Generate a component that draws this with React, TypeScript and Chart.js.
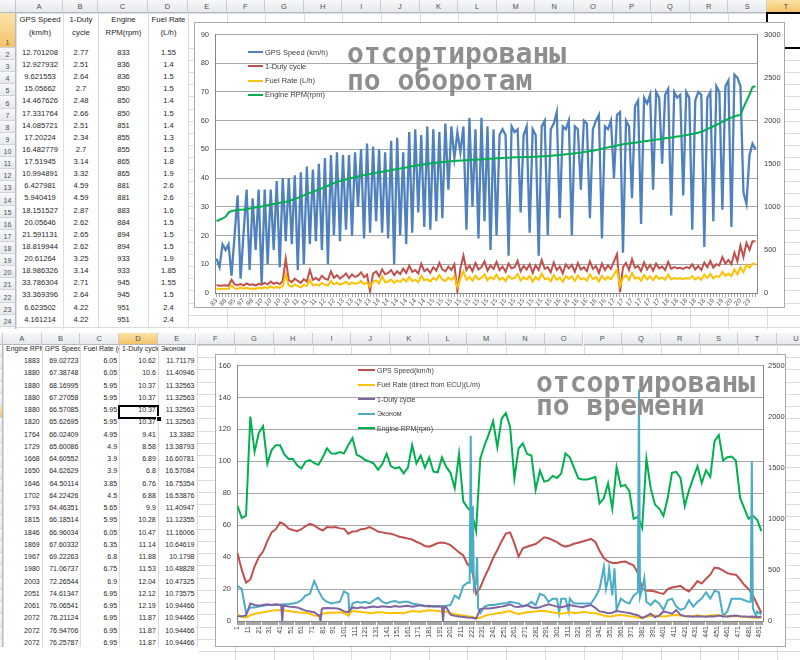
import React, { useEffect, useRef } from 'react'
import { Chart, registerables } from 'chart.js'

Chart.register(...registerables)
Chart.defaults.font.family = '"Liberation Sans", Arial, sans-serif'

// ---------- upper chart: rows sorted by engine speed ----------
const sortedRpm = [
  833, 850, 865, 884, 933, 951, 958, 962, 966, 970,
  975, 980, 986, 993, 999, 1005, 1012, 1019, 1026, 1033,
  1040, 1047, 1053, 1060, 1068, 1080, 1092, 1104, 1118, 1133,
  1150, 1162, 1175, 1188, 1201, 1215, 1230, 1245, 1260, 1275,
  1290, 1299, 1308, 1317, 1326, 1335, 1343, 1352, 1360, 1368,
  1376, 1382, 1389, 1395, 1402, 1408, 1414, 1420, 1426, 1432,
  1438, 1444, 1451, 1457, 1464, 1470, 1476, 1482, 1488, 1494,
  1500, 1504, 1508, 1512, 1516, 1520, 1523, 1526, 1529, 1532,
  1535, 1537, 1539, 1541, 1543, 1545, 1547, 1549, 1551, 1553,
  1555, 1558, 1560, 1563, 1565, 1568, 1569, 1571, 1572, 1574,
  1575, 1576, 1577, 1578, 1579, 1580, 1582, 1584, 1586, 1588,
  1590, 1593, 1596, 1599, 1602, 1605, 1609, 1613, 1617, 1621,
  1625, 1630, 1636, 1641, 1647, 1652, 1660, 1667, 1675, 1682,
  1690, 1697, 1704, 1711, 1719, 1726, 1731, 1736, 1741, 1745,
  1750, 1755, 1760, 1765, 1770, 1775, 1780, 1785, 1790, 1795,
  1800, 1805, 1810, 1815, 1820, 1825, 1832, 1839, 1846, 1853,
  1860, 1872, 1886, 1901, 1918, 1935, 1952, 1969, 1986, 2003,
  2020, 2035, 2050, 2060, 2065, 2150, 2230, 2300, 2390, 2400,
]
const sortedSpeed = [
  12, 9, 17, 15, 17, 6, 20, 34, 5, 21, 36, 8, 33, 15, 36, 3, 36,
  10, 36, 15, 39, 9, 40, 18, 40, 17, 41, 8, 42, 10, 44, 17, 43, 18, 45, 15,
  47, 10, 48, 20, 49, 18, 48, 22, 48, 20, 49, 30, 50, 19,
  52, 21, 51, 25, 50, 21, 49, 19, 53, 10, 54, 20,
  49, 17, 56, 21, 57, 28, 55, 23, 58, 22, 57, 25, 56, 26,
  59, 36, 58, 47, 56, 49, 58, 22, 61, 30, 57, 19, 61,
  25, 58, 15, 57, 20, 55,
  57, 55, 13, 58, 56, 57, 28, 55, 58, 21,
  57, 55, 13, 58, 60, 20, 57, 59,
  63, 26, 58, 57, 60, 20, 58, 57, 36, 60, 59, 26,
  57, 60, 62, 19, 58, 57, 60, 40, 62, 63, 14,
  60, 58, 33, 65, 67, 24, 68, 66, 69, 36, 70,
  68, 45, 69, 71, 27, 70, 68, 69, 34, 70, 68,
  22, 67, 70, 69, 16, 68, 70, 25, 72, 70, 29,
  72, 74, 23, 76, 75, 72, 35, 31, 48, 52, 50,
]
const sortedDuty = [
  2.8, 2.5, 2.6, 2.7, 2.5, 4.6, 3.0, 2.8, 3.1, 2.6,
  3.3, 2.8, 3.0, 2.6, 3.2, 2.9, 3.5, 3.0, 4.0, 3.2,
  3.6, 3.1, 4.2, 12.0, 4.5, 3.8, 5.0, 4.2, 3.5, 4.8,
  4.0, 8.0, 4.6, 5.2, 4.4, 6.0, 5.0, 4.6, 7.5, 5.3,
  6.2, 5.0, 5.8, 6.8, 5.2, 6.5, 5.6, 6.0, 7.2, 5.5,
  6.4, 0.5, 6.8, 7.5, 5.8, 8.2, 6.5, 7.0, 8.0, 6.2,
  7.6, 6.6, 8.5, 7.0, 9.5, 7.4, 8.0, 6.8, 10.2, 7.6,
  8.4, 7.0, 9.0, 7.8, 10.5, 8.2, 7.5, 9.2, 8.0, 10.0,
  0.5, 8.6, 13.0, 8.0, 9.5, 7.6, 10.4, 8.2, 9.0, 11.0,
  7.8, 9.6, 8.4, 10.8, 8.0, 9.2, 7.4, 10.2, 8.6, 9.0,
  11.2, 7.6, 9.4, 8.2, 10.0, 7.0, 9.6, 8.0, 11.5, 8.4,
  9.0, 7.2, 10.6, 8.0, 9.2, 6.8, 10.0, 8.6, 9.8, 7.4,
  10.4, 8.2, 9.0, 7.6, 11.0, 8.4, 9.4, 7.0, 10.2, 8.0,
  9.6, 8.4, 11.0, 13.5, 0.3, 9.0, 10.5, 8.0, 11.8, 8.8,
  9.4, 7.6, 10.6, 8.2, 9.8, 7.8, 10.2, 8.6, 9.2, 8.0,
  10.8, 8.4, 9.0, 8.6, 8.8, 8.4, 9.0, 8.6, 10.0, 8.2,
  9.4, 8.0, 10.6, 9.0, 11.2, 8.8, 10.0, 9.6, 12.5, 10.2,
  11.5, 10.0, 14.0, 11.0, 16.5, 12.5, 17.5, 15.0, 18.0, 18.0,
]
const sortedFuel = [
  1.55, 1.4, 1.5, 1.5, 1.4, 2.6, 1.6, 1.5, 1.9, 1.5,
  1.8, 1.5, 1.6, 1.4, 1.9, 1.6, 2.0, 1.7, 2.4, 1.8,
  2.1, 1.8, 2.5, 6.5, 2.6, 2.2, 3.0, 2.4, 2.0, 2.8,
  2.4, 4.5, 2.7, 3.0, 2.6, 3.5, 2.9, 2.6, 4.2, 3.0,
  3.5, 2.9, 3.3, 3.9, 3.0, 3.7, 3.2, 3.4, 4.2, 3.1,
  3.6, 2.2, 3.9, 4.4, 3.3, 5.8, 3.7, 4.0, 4.7, 3.5,
  4.4, 3.8, 5.0, 4.0, 5.6, 4.2, 4.6, 3.8, 6.0, 4.4,
  4.8, 4.0, 5.3, 4.5, 6.2, 4.7, 4.2, 5.4, 4.6, 5.9,
  2.0, 5.0, 7.5, 4.6, 5.6, 4.3, 6.1, 4.7, 5.2, 6.5,
  4.4, 5.6, 4.8, 6.4, 4.6, 5.4, 4.2, 6.0, 5.0, 5.2,
  6.6, 4.3, 5.5, 4.7, 5.9, 4.0, 5.6, 4.6, 6.8, 4.8,
  5.2, 4.1, 6.2, 4.6, 5.4, 3.9, 5.9, 4.9, 5.8, 4.2,
  6.1, 4.7, 5.2, 4.3, 6.5, 4.8, 5.5, 4.0, 6.0, 4.6,
  5.6, 4.8, 6.5, 8.0, 2.5, 5.2, 6.2, 4.6, 7.0, 5.0,
  5.5, 4.3, 6.3, 4.7, 5.8, 4.5, 6.0, 4.9, 5.4, 4.6,
  6.4, 4.8, 5.2, 5.0, 5.1, 4.9, 5.2, 5.0, 5.9, 4.7,
  5.5, 4.6, 6.3, 5.2, 6.6, 5.1, 5.9, 5.6, 7.4, 6.0,
  6.8, 5.9, 8.2, 6.5, 9.0, 7.2, 9.8, 8.8, 10.2, 10.2,
]

// ---------- lower chart: rows in time order (sample number on x) ----------
const timeIndex = Array.from({ length: 124 }, (_, k) => 1 + k * 4)
const timeSpeed = [
  42.4, 32, 24, 26, 34, 40, 43.5, 50, 55.5, 57.5,
  61.8, 60.5, 57.8, 57, 56.3, 57.5, 59.5, 60.8, 59.8, 58,
  56.7, 58.8, 58.5, 58.8, 58, 57.8, 54.7, 56, 56.2, 57.5,
  57.8, 58.8, 57.5, 56, 55.5, 55, 54.7, 53.8, 52.8, 52.3,
  51.6, 51, 49.6, 48.5, 47, 46.5, 47.6, 48.8, 49.2, 48.6,
  47.5, 45.2, 43, 41, 35.5, 33.3, 17, 21, 27.5, 33,
  39.4, 44.5, 50, 54.7, 55.5, 48.6, 40.4, 45.5, 46.5, 47.4,
  48.2, 50.2, 52.4, 51.8, 50.6, 49.4, 47.6, 46.6, 47.3, 48.4,
  49, 49.8, 50.6, 51.4, 49.5, 44, 39.4, 37.3, 36.3, 36.3,
  37, 37.3, 36, 34.8, 30, 20.5, 19, 19, 18.5, 17.6,
  17, 20, 21, 21.5, 22, 20, 18.5, 21.5, 25, 23.5,
  26.5, 29, 33.5, 33, 31.5, 30, 29.2, 29, 26, 22.5,
  20, 16, 10.5, 5,
]
const timeFuel = [
  4, 2.5, 2.2, 3.5, 4.5, 5, 5.5, 6, 6.5, 6.8,
  6.8, 6.5, 6.2, 5.8, 5.5, 5.3, 5.0, 4.6, 3.5, 3.2,
  4.5, 5.0, 5.3, 5.2, 5.4, 5.0, 3.5, 6.5, 6.0, 5.6,
  5.4, 5.0, 5.2, 5.6, 5.4, 5.0, 4.8, 5.2, 5.0, 4.8,
  5.6, 6.2, 6.0, 5.8, 6.4, 6.8, 6.5, 6.2, 6.0, 5.8,
  5.0, 4.2, 3.8, 3.5, 3.0, 2.6, 1.8, 2.0, 3.2, 4.0,
  4.3, 4.8, 5.2, 5.8, 6.2, 5.0, 4.4, 5.0, 5.5, 5.8,
  6.0, 6.4, 6.2, 5.8, 5.4, 5.0, 4.6, 5.0, 5.4, 5.0,
  5.2, 5.6, 5.4, 5.0, 4.8, 4.2, 3.4, 2.8, 3.0, 3.6,
  3.8, 3.4, 3.0, 2.8, 2.2, 1.8, 2.6, 3.2, 3.6, 3.0,
  2.8, 3.2, 3.6, 3.8, 3.4, 3.0, 2.8, 3.2, 3.6, 3.2,
  3.0, 3.4, 3.8, 3.6, 3.2, 2.8, 3.0, 3.2, 2.8, 2.6,
  2.4, 2.0, 2.2, 2.0,
]
const timeDuty = [
  3, 3, 3.5, 11, 10, 9.5, 10, 10.5, 10, 10.5,
  10.2, 9.6, 9.0, 8.8, 8.5, 7.5, 6.5, 6.0, 5.5, 3.5,
  8.0, 8.2, 8.0, 8.0, 7.5, 6.0, 5.5, 8.5, 8.0, 8.6,
  8.2, 8.8, 9.0, 8.6, 9.2, 9.0, 8.8, 9.4, 9.0, 9.2,
  9.6, 9.0, 9.4, 9.8, 9.2, 9.6, 9.0, 9.4, 9.0, 8.6,
  4.0, 3.2, 2.8, 2.5, 2.2, 2.0, 1.5, 7.5, 8.0, 7.8,
  8.2, 8.6, 9.0, 9.6, 10.5, 9.0, 8.8, 9.4, 9.8, 8.6,
  8.2, 8.6, 9.6, 10.4, 9.8, 9.0, 8.6, 9.2, 10.0, 9.4,
  9.0, 8.6, 9.4, 10.0, 8.2, 6.0, 5.6, 4.8, 5.2, 6.4,
  5.8, 5.4, 5.0, 4.2, 3.6, 2.0, 3.0, 4.6, 2.4, 3.4,
  6.0, 5.4, 4.6, 6.8, 3.8, 3.2, 3.0, 2.6, 3.0, 2.8,
  2.6, 3.0, 2.8, 3.4, 3.0, 2.8, 3.2, 3.4, 3.0, 2.8,
  2.6, 2.8, 2.4, 2.6,
]
const timeEconom = [
  22, 20, 5, 8.5, 8.5, 9, 9.5, 10, 10, 10,
  10.2, 10.5, 10.5, 11, 11.5, 13, 16, 17, 25, 19,
  14, 12, 11, 11.5, 12, 18.5, 17, 11, 12, 11.5,
  12, 11, 13, 14.5, 12, 11, 12, 12.5, 11.5, 12,
  12, 11, 10.5, 10, 9.5, 9, 9.5, 9, 9.2, 9.5,
  10, 16, 14, 22, 24, 22, 24, 5, 9, 10,
  10, 10.5, 11, 11, 12, 11.5, 11, 9, 10, 12,
  10, 17, 16, 12, 14, 14, 14, 14, 14, 11,
  11, 11, 11, 11, 15, 20, 34, 26, 16, 7,
  14, 12, 11, 16, 18, 20, 12, 10, 13, 11,
  7, 13, 14, 9, 7, 8, 13, 9, 12, 14,
  18, 14, 19, 18, 12, 6, 14, 14, 14, 13,
  12, 8, 6, 4,
]
const timeRpm = [
  1125, 1008, 1030, 2000, 1656, 1840, 1906, 1540, 1672, 1720,
  1720, 1630, 1585, 1585, 1524, 1492, 1560, 1575, 1545, 1528,
  1600, 1690, 1640, 1636, 1652, 1640, 1720, 1790, 1625, 1605,
  1575, 1560, 1540, 1480, 1535, 1636, 1515, 1492, 1505, 1444,
  1500, 1720, 1541, 1620, 1500, 1600, 1461, 1455, 1600, 1508,
  1450, 1300, 1636, 1170, 1110, 1062, 880, 1590, 1720, 1828,
  1955, 1700, 1980, 2033, 1900, 1395, 1690, 1738, 1634, 1620,
  1284, 1470, 1364, 1375, 1420, 1400, 1443, 1640, 1602, 1500,
  1395, 1385, 1385, 1395, 1411, 1150, 1200, 1348, 1100, 1507,
  1316, 1332, 1270, 1000, 1020, 910, 1590, 1300, 1141, 1100,
  1029, 1200, 1450, 1460, 1400, 1125, 1280, 1400, 1515, 1350,
  1475, 1411, 1760, 1820, 1571, 1602, 1610, 1570, 1204, 1100,
  1000, 1029, 990, 880,
]
// single samples between the regular ones (short dips and spikes)
const dutyExtra: [number, number][] = [
  [42, 10], [43, 0], [44, 9.5], [78, 3.6], [79, 0], [80, 7], [193, 9], [194, 0], [195, 8.8],
]
const economExtra: [number, number][] = [
  [106, 5], [219, 24], [220, 116], [221, 30], [222, 72], [223, 20], [226, 40], [227, 8],
  [303, 5], [312, 6], [347, 20], [350, 33], [355, 33], [377, 18], [378, 145], [379, 15],
  [383, 27], [457, 3], [483, 12], [484, 100], [485, 8], [488, 3],
]

// ---------- cells visible in the two sheets ----------
const topHead = [['GPS Speed', '(km/h)'], ['1-Duty', 'cycle'], ['Engine', 'RPM(rpm)'], ['Fuel Rate', '(L/h)']]
const topA = ['12.701208', '12.927932', '9.621553', '15.05662', '14.467626', '17.331764', '14.085721', '17.20224', '16.482779', '17.51945', '10.994891', '6.427981', '5.940419', '18.151527', '20.05646', '21.591131', '18.819944', '20.61264', '18.986326', '33.786304', '33.369396', '6.623502', '4.161214']
const topB = ['2.77', '2.51', '2.64', '2.7', '2.48', '2.66', '2.51', '2.34', '2.7', '3.14', '3.32', '4.59', '4.59', '2.87', '2.62', '2.65', '2.62', '3.25', '3.14', '2.71', '2.64', '4.22', '4.22']
const topC = ['833', '836', '836', '850', '850', '850', '851', '855', '855', '865', '865', '881', '881', '883', '884', '894', '894', '933', '933', '945', '945', '951', '951']
const topD = ['1.55', '1.4', '1.5', '1.5', '1.4', '1.5', '1.4', '1.3', '1.5', '1.8', '1.9', '2.6', '2.6', '1.6', '1.5', '1.5', '1.5', '1.9', '1.85', '1.55', '1.5', '2.4', '2.4']

const botHead = ['Engine RPM(rpm)', 'GPS Speed(km/h)', 'Fuel Rate (direct from ECU)(L/m)', '1-Duty cycle', 'Эконом']
const botA = ['1883', '1880', '1880', '1880', '1880', '1820', '1764', '1729', '1668', '1650', '1646', '1702', '1793', '1815', '1846', '1869', '1967', '1980', '2003', '2051', '2061', '2072', '2072', '2072', '2072']
const botB = ['69.02723', '67.38748', '68.16995', '67.27058', '66.57085', '65.62695', '66.02409', '65.60086', '64.60552', '64.62629', '64.50114', '64.22426', '64.46351', '66.18514', '66.96034', '67.60332', '69.22263', '71.06737', '72.26544', '74.61347', '76.06541', '76.21124', '76.94706', '76.25787', '75.15254']
const botC = ['6.05', '6.05', '5.95', '5.95', '5.95', '5.95', '4.95', '4.9', '3.9', '3.9', '3.85', '4.5', '5.65', '5.95', '6.05', '6.35', '6.8', '6.75', '6.9', '6.95', '6.95', '6.95', '6.95', '6.95', '6.95']
const botD = ['10.62', '10.6', '10.37', '10.37', '10.37', '10.37', '9.41', '8.58', '6.89', '6.8', '6.76', '6.88', '9.9', '10.28', '10.47', '11.14', '11.88', '11.53', '12.04', '12.12', '12.19', '11.87', '11.87', '11.87', '12.24']
const botE = ['11.71179', '11.40946', '11.32563', '11.32563', '11.32563', '11.32563', '13.3382', '13.38793', '16.60781', '16.57084', '16.75354', '16.53876', '11.40947', '11.12355', '11.16006', '10.64619', '10.1798', '10.48828', '10.47325', '10.73575', '10.94466', '10.94466', '10.94466', '10.94466', '10.81331']

const sortedSeries = [
  { label: 'GPS Speed (km/h)', values: sortedSpeed, color: '#4F81BD', axis: 'y', order: 3, width: 2.3 },
  { label: '1-Duty cycle', values: sortedDuty, color: '#C0504D', axis: 'y', order: 2, width: 2 },
  { label: 'Fuel Rate (L/h)', values: sortedFuel, color: '#FFC000', axis: 'y', order: 1, width: 2 },
  { label: 'Engine RPM(rpm)', values: sortedRpm, color: '#00B050', axis: 'y1', order: 0, width: 2 },
]
const timeSeries = [
  { label: 'GPS Speed(km/h)', values: timeSpeed, extra: [] as [number, number][], color: '#C0504D', axis: 'y', order: 3 },
  { label: 'Fuel Rate (direct from ECU)(L/m)', values: timeFuel, extra: [] as [number, number][], color: '#FFC000', axis: 'y', order: 1 },
  { label: '1-Duty cycle', values: timeDuty, extra: dutyExtra, color: '#8064A2', axis: 'y', order: 0 },
  { label: 'Эконом', values: timeEconom, extra: economExtra, color: '#4BACC6', axis: 'y', order: 2 },
  { label: 'Engine RPM(rpm)', values: timeRpm, extra: [] as [number, number][], color: '#00B050', axis: 'y1', order: 4 },
]

const toPoints = (ys: number[], extra: [number, number][]) => {
  const m = new Map<number, number>()
  timeIndex.forEach((x, i) => m.set(x, ys[i]))
  extra.forEach(([x, y]) => m.set(x, y))
  return [...m.entries()].sort((a, b) => a[0] - b[0]).map(([x, y]) => ({ x, y }))
}

const FONT = '"Liberation Sans", Arial, sans-serif'
const MONO = '"DejaVu Sans Mono", monospace'
const GRID = '#dadcdf'
const HEAD_BG = 'linear-gradient(#f7f8f9, #e6e9ed)'
const SEL_BG = 'linear-gradient(#fbe3a8, #f3c36b)'
const AXIS_TXT = '#404040'
const plain = (v: any) => String(v)

const SortedChart = () => {
  const ref = useRef<HTMLCanvasElement | null>(null)
  useEffect(() => {
    if (!ref.current) return
    const chart = new Chart(ref.current, {
      type: 'line',
      data: {
        labels: sortedRpm.map(String),
        datasets: sortedSeries.map((s) => ({
          label: s.label,
          data: s.values,
          borderColor: s.color,
          backgroundColor: s.color,
          borderWidth: s.width,
          pointRadius: 0,
          tension: 0,
          yAxisID: s.axis,
          order: s.order,
        })),
      },
      options: {
        responsive: false,
        animation: false,
        events: [],
        layout: { padding: { top: 4 } },
        plugins: { legend: { display: false }, tooltip: { enabled: false } },
        scales: {
          x: {
            offset: true,
            grid: { drawOnChartArea: false, tickLength: 4, color: '#a6a6a6' },
            border: { color: '#868686' },
            ticks: {
              autoSkip: false, minRotation: 45, maxRotation: 45, padding: 0,
              color: '#595959', font: { size: 6.5 },
              callback: (_v: any, i: number) => (i % 3 === 0 ? String(sortedRpm[i]).slice(0, 2) : ''),
            },
            afterFit: (s: any) => { s.height = 14 },
          },
          y: {
            position: 'left', min: 0, max: 90,
            ticks: { stepSize: 10, padding: 6, color: AXIS_TXT, font: { size: 7.5 }, callback: plain },
            grid: { color: '#a6a6a6', drawTicks: false },
            border: { color: '#868686' },
            afterFit: (s: any) => { s.width = 20 },
          },
          y1: {
            position: 'right', min: 0, max: 3000,
            ticks: { stepSize: 500, padding: 7, color: AXIS_TXT, font: { size: 7.5 }, callback: plain },
            grid: { drawOnChartArea: false, drawTicks: false },
            border: { color: '#868686' },
            afterFit: (s: any) => { s.width = 27 },
          },
        },
      },
    } as any)
    return () => chart.destroy()
  }, [])
  return <canvas ref={ref} width={589} height={284} style={{ position: 'absolute', left: 0, top: 0 }} />
}

const TimeChart = () => {
  const ref = useRef<HTMLCanvasElement | null>(null)
  useEffect(() => {
    if (!ref.current) return
    const chart = new Chart(ref.current, {
      type: 'line',
      data: {
        datasets: timeSeries.map((s) => ({
          label: s.label,
          data: toPoints(s.values, s.extra),
          borderColor: s.color,
          backgroundColor: s.color,
          borderWidth: 2,
          pointRadius: 0,
          tension: 0,
          yAxisID: s.axis,
          order: s.order,
        })),
      },
      options: {
        responsive: false,
        animation: false,
        events: [],
        layout: { padding: { top: 4 } },
        plugins: { legend: { display: false }, tooltip: { enabled: false } },
        scales: {
          x: {
            type: 'linear', min: 0.5, max: 494.5,
            afterBuildTicks: (s: any) => {
              s.ticks = Array.from({ length: 494 }, (_, i) => ({ value: i + 1 }))
            },
            grid: { drawOnChartArea: false, tickLength: 4, color: '#a6a6a6' },
            border: { color: '#868686' },
            ticks: {
              autoSkip: false, minRotation: 90, maxRotation: 90, padding: 1,
              color: AXIS_TXT, font: { size: 7 },
              callback: (v: any) => ((Number(v) - 1) % 10 === 0 ? String(v) : ''),
            },
            afterFit: (s: any) => { s.height = 25 },
          },
          y: {
            position: 'left', min: 0, max: 160,
            ticks: { stepSize: 20, padding: 6, color: AXIS_TXT, font: { size: 7.5 }, callback: plain },
            grid: { color: '#a6a6a6', drawTicks: false },
            border: { color: '#868686' },
            afterFit: (s: any) => { s.width = 21 },
          },
          y1: {
            position: 'right', min: 0, max: 2500,
            ticks: { stepSize: 500, padding: 5, color: AXIS_TXT, font: { size: 7.5 }, callback: plain },
            grid: { drawOnChartArea: false, drawTicks: false },
            border: { color: '#868686' },
            afterFit: (s: any) => { s.width = 22 },
          },
        },
      },
    } as any)
    return () => chart.destroy()
  }, [])
  return <canvas ref={ref} width={569} height={291} style={{ position: 'absolute', left: 0, top: 0 }} />
}

type SheetProps = {
  top: number
  height: number
  headerH: number
  rowHeadW: number
  colEdges: number[]
  rowEdges: number[]
  selCol: number
  selRow: number
  rowNumbers: boolean
  children?: React.ReactNode
}

const Sheet = ({ top, height, headerH, rowHeadW, colEdges, rowEdges, selCol, selRow, rowNumbers, children }: SheetProps) => (
  <div style={{ position: 'absolute', left: 0, top, width: 800, height, overflow: 'hidden', background: '#fff' }}>
    {rowEdges.map((y, i) => (
      <div key={'h' + i} style={{ position: 'absolute', left: rowHeadW, top: y, width: 800, height: 1, background: GRID }} />
    ))}
    {colEdges.map((x, i) => (
      <div key={'v' + i} style={{ position: 'absolute', left: x, top: headerH, width: 1, height, background: GRID }} />
    ))}
    <div style={{ position: 'absolute', left: 0, top: 0, width: rowHeadW, height: headerH, background: HEAD_BG, borderRight: '1px solid #c3c7cc', borderBottom: '1px solid #b5b9bf', boxSizing: 'border-box' }} />
    {colEdges.slice(0, -1).map((x, i) => (
      <div
        key={'c' + i}
        style={{
          position: 'absolute', left: x, top: 0, width: colEdges[i + 1] - x, height: headerH,
          background: i === selCol ? SEL_BG : HEAD_BG, borderRight: '1px solid #c8ccd1', borderBottom: '1px solid #b5b9bf',
          boxSizing: 'border-box', font: `7.5px ${FONT}`, color: '#505050',
          display: 'flex', alignItems: 'center', justifyContent: 'center',
        }}
      >
        {String.fromCharCode(65 + i)}
      </div>
    ))}
    {rowEdges.slice(0, -1).map((y, i) => (
      <div
        key={'r' + i}
        style={{
          position: 'absolute', left: 0, top: y, width: rowHeadW, height: rowEdges[i + 1] - y,
          background: i + 1 === selRow ? SEL_BG : HEAD_BG, borderRight: '1px solid #b5b9bf', borderBottom: '1px solid #d0d3d7',
          boxSizing: 'border-box', font: `7px ${FONT}`, color: '#505050',
          display: 'flex', alignItems: 'flex-end', justifyContent: 'center', paddingBottom: 1,
        }}
      >
        {rowNumbers ? i + 1 : ''}
      </div>
    ))}
    {children}
  </div>
)

const Cell = ({ x0, x1, y0, y1, align, size, children }: { x0: number; x1: number; y0: number; y1: number; align: 'left' | 'center' | 'right'; size: number; children: React.ReactNode }) => (
  <div
    style={{
      position: 'absolute', left: x0 + 1, top: y0, width: x1 - x0 - 1, height: y1 - y0, overflow: 'hidden',
      whiteSpace: 'nowrap', textAlign: align, padding: '0 2px', boxSizing: 'border-box',
      lineHeight: `${y1 - y0 + 1}px`, font: `${size}px ${FONT}`, color: '#262626', background: '#fff',
    }}
  >
    {children}
  </div>
)

const Legend = ({ items, left, top, step, size, mark }: { items: { label: string; color: string }[]; left: number; top: number; step: number; size: number; mark: number }) => (
  <>
    {items.map((s, i) => (
      <div
        key={s.label}
        style={{ position: 'absolute', left, top: top + i * step, height: 10, display: 'flex', alignItems: 'center', font: `${size}px ${FONT}`, color: '#404040', whiteSpace: 'nowrap' }}
      >
        <span style={{ display: 'inline-block', width: mark, height: 2, background: s.color, marginRight: 2 }} />
        {s.label}
      </div>
    ))}
  </>
)

const topCols = [16, 63, 98, 148, 188, ...Array.from({ length: 16 }, (_, k) => 188 + (k + 1) * 38.6)]
const topRows = [13, 48, ...Array.from({ length: 24 }, (_, k) => 48 + (k + 1) * 12.12)]
const botCols = Array.from({ length: 22 }, (_, k) => 3 + k * 38.7)
const botRows = [12, 24, ...Array.from({ length: 26 }, (_, k) => 24 + (k + 1) * 12.25)]

export default function App() {
  const topCells = [topA, topB, topC, topD]
  const botCells = [botA, botB, botC, botD, botE]
  return (
    <div style={{ position: 'fixed', left: 0, top: 0, width: 800, height: 660, overflow: 'hidden', background: '#fff' }}>
      <Sheet top={0} height={329} headerH={13} rowHeadW={16} colEdges={topCols} rowEdges={topRows} selCol={19} selRow={1} rowNumbers>
        {topHead.map((h, c) => (
          <div key={'th' + c} style={{ position: 'absolute', left: topCols[c] + 1, top: 14, width: topCols[c + 1] - topCols[c] - 1, textAlign: 'center', font: `7.8px ${FONT}`, lineHeight: '12.5px', color: '#262626' }}>
            {h[0]}<br />{h[1]}
          </div>
        ))}
        {topCells.map((col, c) =>
          col.map((v, r) => (
            <Cell key={c + '-' + r} x0={topCols[c]} x1={topCols[c + 1]} y0={topRows[r + 1]} y1={topRows[r + 2]} align="center" size={7.6}>
              {v}
            </Cell>
          )),
        )}
        <div style={{ position: 'absolute', left: topCols[19] - 1, top: 12, width: 60, height: 37, border: '2px solid #000', boxSizing: 'border-box' }} />
      </Sheet>

      <Sheet top={333} height={327} headerH={12} rowHeadW={3} colEdges={botCols} rowEdges={botRows} selCol={3} selRow={6} rowNumbers={false}>
        {botHead.map((h, c) => (
          <Cell key={'bh' + c} x0={botCols[c]} x1={botCols[c + 1]} y0={botRows[1] - 12} y1={botRows[1]} align="left" size={7}>
            {h}
          </Cell>
        ))}
        {botCells.map((col, c) =>
          col.map((v, r) => (
            <Cell key={c + '-' + r} x0={botCols[c]} x1={botCols[c + 1]} y0={botRows[r + 1]} y1={botRows[r + 2]} align="right" size={7}>
              {v}
            </Cell>
          )),
        )}
        <div style={{ position: 'absolute', left: botCols[3] - 1, top: botRows[5] - 1, width: botCols[4] - botCols[3] + 2, height: botRows[6] - botRows[5] + 2, border: '2px solid #000', boxSizing: 'border-box' }} />
        <div style={{ position: 'absolute', left: botCols[4] - 2, top: botRows[6] - 2, width: 4, height: 4, background: '#000', border: '1px solid #fff' }} />
        <div style={{ position: 'absolute', left: 0, top: 314, width: 198, height: 20, background: '#fff' }} />
      </Sheet>

      <div style={{ position: 'absolute', left: 194, top: 22, width: 591, height: 286, border: '1px solid #a9a9a9', boxSizing: 'border-box', background: '#fff' }}>
        <SortedChart />
      </div>
      <Legend items={sortedSeries} left={248} top={47} step={14.3} size={7.5} mark={15} />
      <div style={{ position: 'absolute', left: 347, top: 40, font: `bold 28px ${MONO}`, lineHeight: '27px', color: '#8e8e8e', whiteSpace: 'pre' }}>
        отсортированы{'\n'}по оборотам
      </div>

      <div style={{ position: 'absolute', left: 215, top: 354, width: 571, height: 293, border: '1px solid #a9a9a9', boxSizing: 'border-box', background: '#fff' }}>
        <TimeChart />
      </div>
      <Legend items={timeSeries} left={358} top={365} step={14.5} size={7} mark={17} />
      <div style={{ position: 'absolute', left: 536, top: 371, font: `bold 28px ${MONO}`, lineHeight: '23px', color: '#8e8e8e', whiteSpace: 'pre' }}>
        отсортированы{'\n'}по времени
      </div>
    </div>
  )
}
